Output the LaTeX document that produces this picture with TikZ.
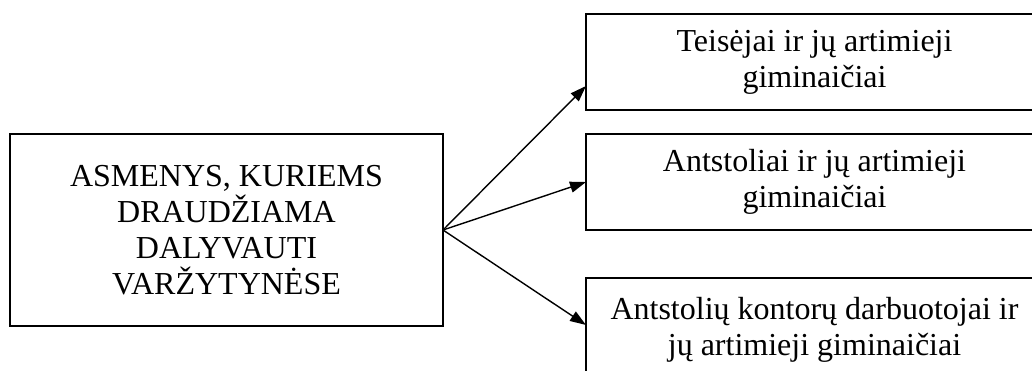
\documentclass[tikz,border=0pt]{standalone}
\usepackage{fontspec}
\setmainfont{Liberation Serif}
\usetikzlibrary{arrows.meta}
\begin{document}
\begin{tikzpicture}[x=1pt,y=-1pt,
  box/.style={draw=black, line width=1.9pt, inner sep=0pt, outer sep=0pt, align=center,
    font=\fontsize{32pt}{36pt}\selectfont},
  arr/.style={line width=1.4pt, -{Triangle[length=16pt,width=11pt]}}]
\useasboundingbox (0,0) rectangle (1032,370);
\clip (0,0) rectangle (1032,370);
\node[box, minimum width=433pt, minimum height=192pt] (L) at (226.5,230)
  {ASMENYS, KURIEMS\\DRAUDŽIAMA\\DALYVAUTI\\VARŽYTYNĖSE};
\node[box, minimum width=457pt, minimum height=96pt] (T) at (814.5,62)
  {Teisėjai ir jų artimieji\\giminaičiai};
\node[box, minimum width=457pt, minimum height=96pt] (M) at (814.5,182)
  {Antstoliai ir jų artimieji\\giminaičiai};
\node[box, minimum width=457pt, minimum height=104pt] (B) at (814.5,330)
  {Antstolių kontorų darbuotojai ir\\jų artimieji giminaičiai};
\coordinate (t1) at ([yshift=-24pt]T.west);
\coordinate (b1) at ([yshift=5pt]B.west);
\draw[arr] (L.east) -- (t1);
\draw[arr] (L.east) -- (M.west);
\draw[arr] (L.east) -- (b1);
\end{tikzpicture}
\end{document}
